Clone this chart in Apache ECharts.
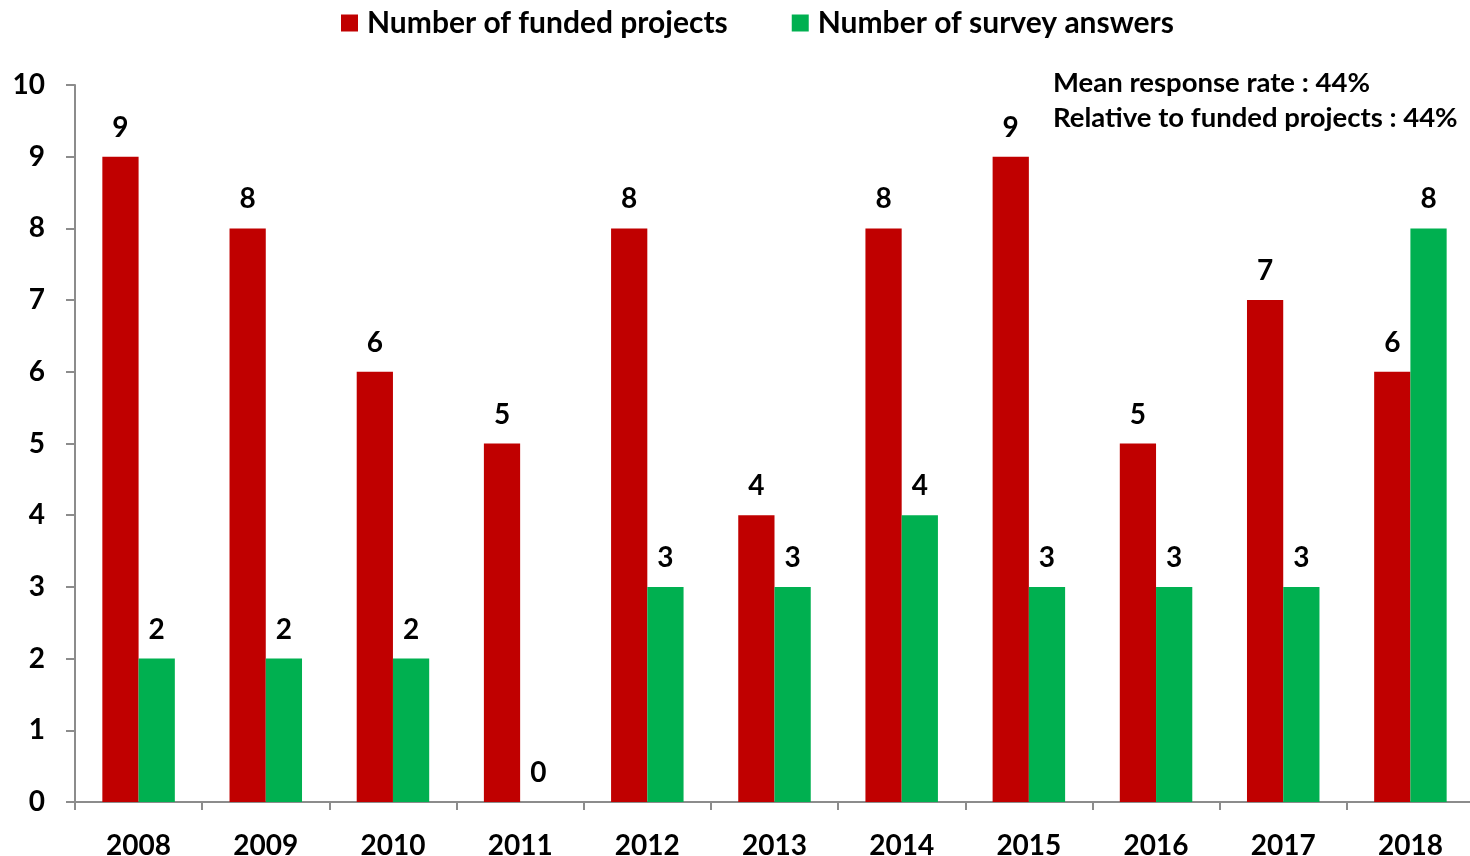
<!DOCTYPE html>
<html>
<head>
<meta charset="utf-8">
<script src="https://cdn.jsdelivr.net/npm/echarts@6/dist/echarts.min.js"></script>
<style>
  html, body { margin: 0; padding: 0; background: #ffffff; }
  #chart { width: 1470px; height: 856px; }
</style>
</head>
<body>
<div id="chart"></div>
<script>
// Yearly counts of funded projects and survey answers
const years = ['2008', '2009', '2010', '2011', '2012', '2013', '2014', '2015', '2016', '2017', '2018'];
const fundedProjects = [9, 8, 6, 5, 8, 4, 8, 9, 5, 7, 6];
const surveyAnswers = [2, 2, 2, 0, 3, 3, 4, 3, 3, 3, 8];
const seriesNames = ['Number of funded projects', 'Number of survey answers'];
const noteLines = ['Mean response rate : 44%', 'Relative to funded projects : 44%'];

const FONT = 'Lato, "Open Sans", sans-serif';
const RED = '#C00000';
const GREEN = '#00B050';
const AXIS = '#8c8c8c';

const chart = echarts.init(document.getElementById('chart'), null, { renderer: 'canvas' });

const labelStyle = {
  show: true,
  position: 'top',
  distance: 15,
  color: '#000',
  fontFamily: FONT,
  fontWeight: 'bold',
  fontSize: 28
};

chart.setOption({
  animation: false,
  backgroundColor: '#ffffff',
  textStyle: { fontFamily: FONT },
  legend: {
    top: 3,
    left: 336,
    itemWidth: 17,
    itemHeight: 17,
    itemGap: 64,
    icon: 'rect',
    textStyle: { fontFamily: FONT, fontWeight: 'bold', fontSize: 30, color: '#000', padding: [0, 0, 0, 4] },
    data: seriesNames
  },
  graphic: [{
    type: 'text',
    left: 1053,
    top: 66,
    style: {
      text: noteLines.join('\n'),
      fontFamily: FONT,
      fontWeight: 'bold',
      fontSize: 27.5,
      lineHeight: 35,
      fill: '#000'
    }
  }],
  grid: { left: 75, top: 85, width: 1399, height: 717, outerBoundsMode: 'none', containLabel: false },
  xAxis: {
    type: 'category',
    data: years,
    axisLine: { lineStyle: { color: AXIS, width: 2 } },
    axisTick: { show: true, length: 8, lineStyle: { color: AXIS, width: 2 } },
    axisLabel: {
      margin: 30,
      color: '#000',
      fontFamily: FONT,
      fontWeight: 'bold',
      fontSize: 28
    },
    splitLine: { show: false }
  },
  yAxis: {
    type: 'value',
    min: 0,
    max: 10,
    interval: 1,
    axisLine: { show: true, lineStyle: { color: AXIS, width: 2 } },
    axisTick: { show: true, length: 9, lineStyle: { color: AXIS, width: 2 } },
    axisLabel: {
      margin: 30,
      color: '#000',
      fontFamily: FONT,
      fontWeight: 'bold',
      fontSize: 28
    },
    splitLine: { show: false }
  },
  series: [
    {
      name: seriesNames[0],
      type: 'bar',
      data: fundedProjects,
      barWidth: '28.5%',
      barGap: '0%',
      itemStyle: { color: RED },
      label: labelStyle
    },
    {
      name: seriesNames[1],
      type: 'bar',
      data: surveyAnswers,
      barWidth: '28.5%',
      barGap: '0%',
      itemStyle: { color: GREEN },
      label: labelStyle
    }
  ]
});
</script>
</body>
</html>
